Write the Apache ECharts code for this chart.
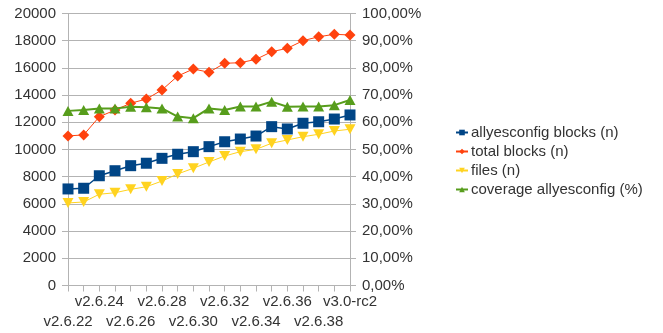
<!DOCTYPE html>
<html>
<head>
<meta charset="utf-8">
<script src="https://cdn.jsdelivr.net/npm/echarts@6/dist/echarts.min.js"></script>
<style>
  html, body { margin: 0; padding: 0; background: #ffffff; }
  #chart { width: 663px; height: 333px; }
</style>
</head>
<body>
<div id="chart"></div>
<script>
// Kernel releases on the category axis
var versions = ['v2.6.22', 'v2.6.23', 'v2.6.24', 'v2.6.25', 'v2.6.26', 'v2.6.27', 'v2.6.28',
  'v2.6.29', 'v2.6.30', 'v2.6.31', 'v2.6.32', 'v2.6.33', 'v2.6.34', 'v2.6.35', 'v2.6.36',
  'v2.6.37', 'v2.6.38', 'v2.6.39', 'v3.0-rc2'];

// Counts (left axis)
var allyesconfigBlocks = [7100, 7150, 8070, 8440, 8810, 8990, 9350, 9650, 9840, 10210,
  10570, 10770, 10990, 11680, 11510, 11930, 12040, 12240, 12540];
var totalBlocks = [11000, 11070, 12410, 12900, 13400, 13710, 14380, 15400, 15920, 15680,
  16340, 16380, 16630, 17190, 17440, 18000, 18290, 18470, 18420];
var files = [6070, 6140, 6710, 6820, 7070, 7260, 7680, 8200, 8620, 9080,
  9520, 9840, 10010, 10460, 10700, 10940, 11120, 11360, 11490];

// Coverage in percent (right axis)
var coverage = [64.2, 64.5, 65.1, 65.1, 65.7, 65.5, 65.1, 62.1, 61.5, 65.1,
  64.5, 65.8, 65.8, 67.6, 65.7, 65.8, 65.8, 66.3, 68.2];

var FONT = 'Liberation Sans';
var FS = 15;
var TEXT = '#333333';
var GRID = '#b3b3b3';

var chart = echarts.init(document.getElementById('chart'), null, { renderer: 'canvas' });

chart.setOption({
  animation: false,
  backgroundColor: '#ffffff',
  textStyle: { fontFamily: FONT },
  grid: { left: 68, right: 313, top: 13.5, bottom: 47.5 },
  legend: {
    orient: 'vertical',
    left: 455,
    top: 124.5,
    padding: 0,
    itemWidth: 12,
    itemHeight: 7,
    itemGap: 3,
    textStyle: { fontFamily: FONT, fontSize: FS, color: TEXT, lineHeight: 16, padding: [0, 0, 0, -2] },
    data: ['allyesconfig blocks (n)', 'total blocks (n)', 'files (n)', 'coverage allyesconfig (%)']
  },
  xAxis: {
    type: 'category',
    data: versions,
    boundaryGap: false,
    axisLine: { lineStyle: { color: GRID, width: 1 } },
    axisTick: { show: true, interval: 0, length: 6, lineStyle: { color: GRID } },
    axisLabel: {
      interval: 0,
      margin: 6,
      fontFamily: FONT,
      fontSize: FS,
      color: TEXT,
      lineHeight: 20,
      formatter: function (v, i) {
        if (i % 2 === 1) return '';
        return (i % 4 === 0) ? '\n' + v : v;
      }
    },
    splitLine: { show: false }
  },
  yAxis: [
    {
      type: 'value',
      min: 0,
      max: 20000,
      interval: 2000,
      axisLine: { show: true, lineStyle: { color: GRID } },
      axisTick: { show: true, length: 6, lineStyle: { color: GRID } },
      axisLabel: {
        margin: 12, fontFamily: FONT, fontSize: FS, color: TEXT,
        formatter: function (v) { return String(v); }
      },
      splitLine: { show: true, lineStyle: { color: GRID, width: 1 } }
    },
    {
      type: 'value',
      min: 0,
      max: 100,
      interval: 10,
      position: 'right',
      axisLine: { show: true, lineStyle: { color: GRID } },
      axisTick: { show: true, length: 6, lineStyle: { color: GRID } },
      axisLabel: {
        margin: 12, fontFamily: FONT, fontSize: FS, color: TEXT,
        formatter: function (v) { return v.toFixed(2).replace('.', ',') + '%'; }
      },
      splitLine: { show: false }
    }
  ],
  series: [
    {
      name: 'allyesconfig blocks (n)',
      type: 'line',
      data: allyesconfigBlocks,
      yAxisIndex: 0,
      symbol: 'rect',
      symbolSize: 11,
      color: '#004586',
      lineStyle: { color: '#004586', width: 1.5 },
      itemStyle: { color: '#004586' },
      z: 4
    },
    {
      name: 'total blocks (n)',
      type: 'line',
      data: totalBlocks,
      yAxisIndex: 0,
      symbol: 'diamond',
      symbolSize: 11,
      color: '#ff420e',
      lineStyle: { color: '#ff420e', width: 1 },
      itemStyle: { color: '#ff420e' },
      z: 3
    },
    {
      name: 'files (n)',
      type: 'line',
      data: files,
      yAxisIndex: 0,
      symbol: 'triangle',
      symbolRotate: 180,
      symbolSize: [11, 10],
      color: '#ffd320',
      lineStyle: { color: '#ffd320', width: 1 },
      itemStyle: { color: '#ffd320' },
      z: 2
    },
    {
      name: 'coverage allyesconfig (%)',
      type: 'line',
      data: coverage,
      yAxisIndex: 1,
      symbol: 'triangle',
      symbolSize: [11, 10],
      color: '#579d1c',
      lineStyle: { color: '#579d1c', width: 2 },
      itemStyle: { color: '#579d1c' },
      z: 5
    }
  ]
});
</script>
</body>
</html>
